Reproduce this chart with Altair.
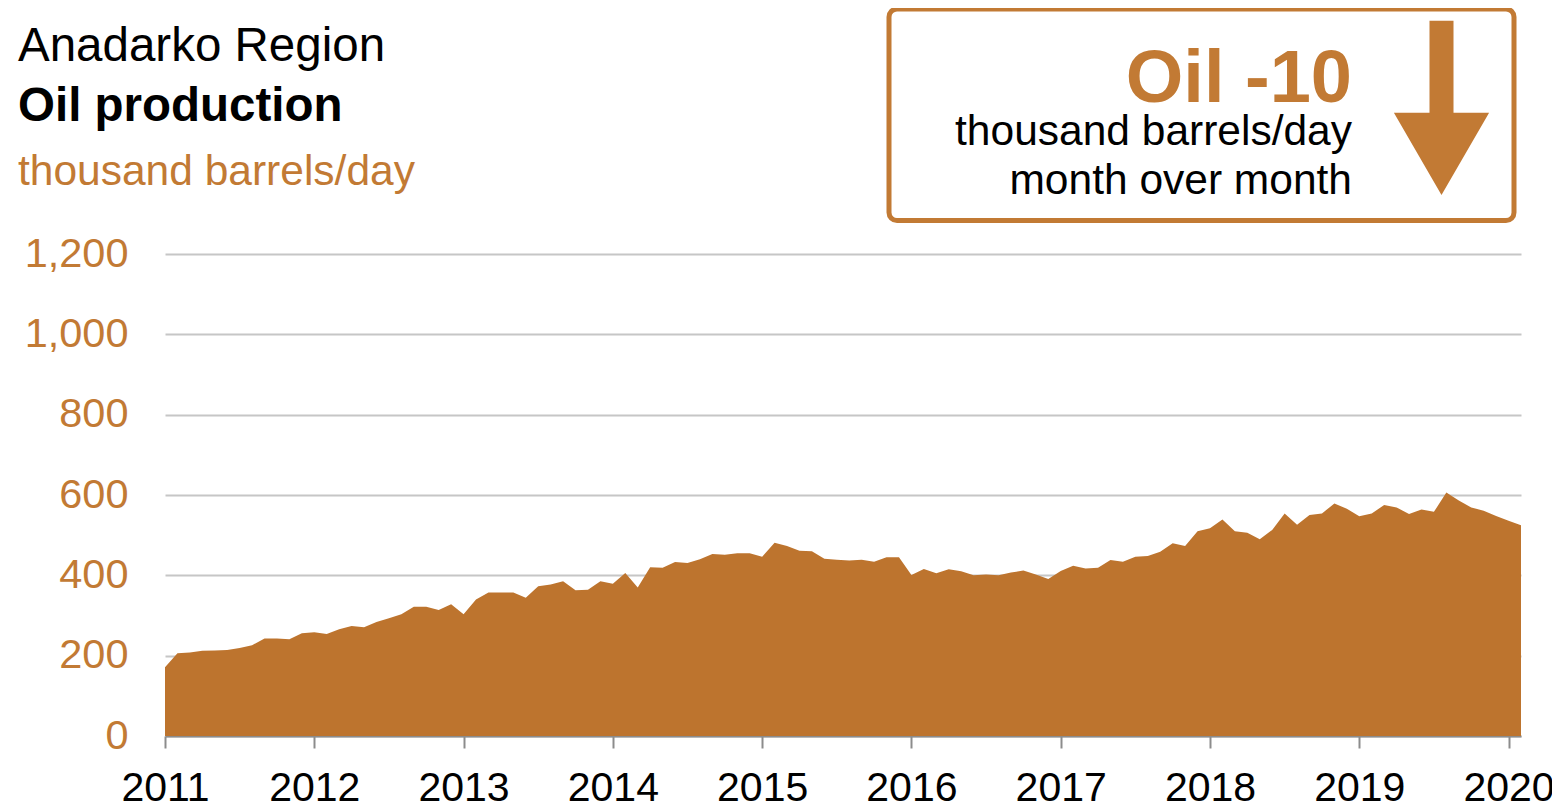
import altair as alt
import pandas as pd

# ---- data (thousand barrels/day, monthly Jan 2011 - Feb 2020) ----
months = pd.date_range("2011-01-01", periods=110, freq="MS")
oil = [
    171, 206, 208, 212, 213, 214, 219, 226, 243, 243, 241, 256,
    258, 254, 266, 274, 271, 284, 293, 303, 322, 322, 314, 328,
    303, 340, 357, 357, 357, 344, 373, 377, 385, 363, 364, 385,
    379, 406, 370, 420, 419, 433, 431, 440, 453, 451, 455, 455,
    446, 481, 473, 461, 460, 441, 439, 437, 439, 434, 445, 445,
    401, 416, 405, 415, 410, 400, 402, 400, 407, 412, 402, 391,
    411, 424, 417, 419, 438, 434, 446, 448, 459, 480, 473, 510,
    517, 539, 510, 506, 490, 513, 554, 526, 550, 554, 579, 566,
    547, 554, 575, 569, 553, 564, 558, 606, 586, 569, 561, 548,
    536, 525,
]
year_ticks = list(range(2011, 2021))
y_ticks = [0, 200, 400, 600, 800, 1000, 1200]

title_line1 = "Anadarko Region"
title_line2 = "Oil production"
unit_text = "thousand barrels/day"
box_big = "Oil -10"
box_line1 = "thousand barrels/day"
box_line2 = "month over month"

df = pd.DataFrame({
    "t": months.year + (months.month - 1) / 12.0,
    "v": oil,
})

AREA = "#bd742e"
ORANGE = "#c27a34"
FONT = "Liberation Sans"

W, H = 1356, 482

area = alt.Chart(df).mark_area(color=AREA, opacity=1).encode(
    x=alt.X(
        "t:Q",
        scale=alt.Scale(domain=[2011, 2011 + 109 / 12.0], nice=False, zero=False),
        axis=alt.Axis(
            values=year_ticks, format="d", title=None, grid=False,
            domainColor="#8c8c8c", domainWidth=2,
            tickColor="#8c8c8c", tickWidth=2, tickSize=12,
            labelFontSize=41, labelColor="black", labelFont=FONT,
            labelPadding=20, labelFlush=False, labelOverlap=False,
        ),
    ),
    y=alt.Y(
        "v:Q",
        scale=alt.Scale(domain=[0, 1200], nice=False),
        axis=alt.Axis(
            values=y_ticks, format=",d", title=None, domain=False,
            ticks=False, tickSize=0, labelPadding=37,
            labelFontSize=41.5, labelColor=ORANGE, labelFont=FONT,
            gridColor="#c6c6c6", gridWidth=2,
        ),
    ),
)

dummy = pd.DataFrame({"a": [0]})


def txt(text, x, y, size, color="black", weight="normal", align="left"):
    return alt.Chart(dummy).mark_text(
        text=text, font=FONT, fontSize=size, fontWeight=weight,
        color=color, align=align, baseline="alphabetic",
    ).encode(x=alt.value(x), y=alt.value(y))


t1 = txt(title_line1, -147, -193, 47.5)
t2 = txt(title_line2, -147, -133, 47.5, weight="bold")
t3 = txt(unit_text, -147, -69, 42.5, color=ORANGE)

box = alt.Chart(dummy).mark_rect(
    fillOpacity=0, stroke=ORANGE, strokeWidth=5, cornerRadius=8,
).encode(
    x=alt.value(724), x2=alt.value(1349),
    y=alt.value(-245), y2=alt.value(-33.5),
)

b1 = txt(box_big, 1187, -152.5, 74, color=ORANGE, weight="bold", align="right")
b2 = txt(box_line1, 1187, -109, 42.5, align="right")
b3 = txt(box_line2, 1187, -60.5, 42.5, align="right")

arrow_path = "M-12,-87.3L12,-87.3L12,4.7L47.6,4.7L0,87L-47.6,4.7L-12,4.7Z"
arrow = alt.Chart(dummy).mark_point(
    shape=arrow_path, filled=True, fill=ORANGE, strokeWidth=0, opacity=1,
).encode(x=alt.value(1276.5), y=alt.value(-146), size=alt.value(4))

chart = alt.layer(area, t1, t2, t3, box, b1, b2, b3, arrow).properties(
    width=W, height=H,
    padding={"left": 157, "top": 246, "right": 31, "bottom": 66},
    autosize=alt.AutoSizeParams(type="none"),
    background="white",
).configure_view(stroke=None)

chart.save("out.html", embed_options={"renderer": "svg", "actions": False})
